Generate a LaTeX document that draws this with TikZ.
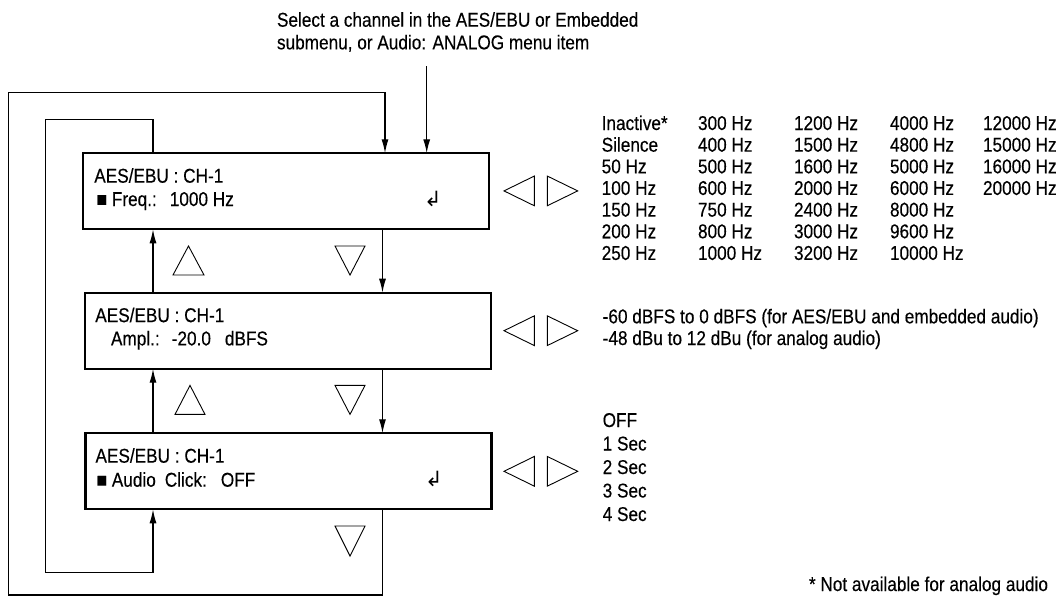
\documentclass[tikz,border=0pt]{standalone}
\usepackage{fontspec}
\setmainfont{Liberation Sans}[FakeStretch=0.86,FakeBold=0.3]
\newfontfamily\symf{DejaVu Sans}
\usetikzlibrary{arrows.meta}
\tikzset{
  lab/.style={inner sep=0pt, outer sep=0pt, anchor=base west, font=\fontsize{20}{24}\selectfont},
  labr/.style={lab, anchor=base east},
  menubox/.style={draw, line width=2.3pt, minimum width=406pt, minimum height=76pt, inner sep=0pt, outer sep=0pt},
  conn/.style={line width=1.3pt},
  arr/.style={conn, -{Latex[length=14pt,width=7pt]}},
  tri/.style={line width=0.9pt, line join=miter},
  entersym/.style={inner sep=0pt, outer sep=0pt, font=\symf\fontsize{21}{21}\selectfont},
}
\begin{document}
\begin{tikzpicture}[x=1pt,y=-1pt]
\useasboundingbox (0,0) rectangle (1064,598);

% header text
\node[lab] (h1) at (277,26.7) {Select a channel in the AES/EBU or Embedded};
\node[lab] (h2) at (277,49.3) {submenu, or Audio: ANALOG menu item};
\coordinate (entry) at (426.7,66);

% boxes
\node[menubox] (b1) at (286.3,191.3) {};
\node[menubox] (b2) at (288.2,330.7) {};
\node[menubox] (b3) at (288.5,471.3) {};

% box texts
\node[lab] (t1a) at (94.3,182.7) {AES/EBU : CH-1};
\node[lab] (t1b) at (96.7,206) {■ Freq.:\hspace{13pt}1000 Hz};
\node[lab] (t2a) at (95.3,322.1) {AES/EBU : CH-1};
\node[lab] (t2b) at (111,345.4) {Ampl.:\hspace{12pt}-20.0\hspace{14pt}dBFS};
\node[lab] (t3a) at (95.5,462.7) {AES/EBU : CH-1};
\node[lab] (t3b) at (96.7,486.7) {■ Audio\hspace{9pt}Click:\hspace{14pt}OFF};
\node[entersym] (e1) at (433,199) {↲};
\node[entersym] (e3) at (434,479.3) {↲};

% connector helper coordinates
\coordinate (up) at (153,0);
\coordinate (dn) at (382.5,0);
\coordinate (ol) at (385,0);
\coordinate (otop) at (8.3,92.3);
\coordinate (obot) at (8.3,595);
\coordinate (itop) at (45.7,119.5);
\coordinate (ibot) at (45.7,572.7);

% entry arrow
\draw[arr] (entry) -- (b1.north -| entry);

% vertical connectors between boxes
\draw[arr] (b1.south -| dn) -- (b2.north -| dn);
\draw[arr] (b2.south -| dn) -- (b3.north -| dn);
\draw[arr] (b2.north -| up) -- (b1.south -| up);
\draw[arr] (b3.north -| up) -- (b2.south -| up);

% outer loop: bottom of box 3 back to top of box 1
\draw[arr] (b3.south -| dn) -- (dn |- obot) -- (obot) -- (otop) -- (ol |- otop) -- (b1.north -| ol);
% inner loop: top of box 1 to bottom of box 3
\draw[arr] (b1.north -| up) -- (up |- itop) -- (itop) -- (ibot) -- (up |- ibot) -- (b3.south -| up);

% up / down triangles
\draw[tri] (173,275) -- (204,275) -- (188.5,246) -- cycle;
\draw[tri] (335,246) -- (365,246) -- (350,275) -- cycle;
\draw[tri] (175,414.4) -- (205,414.4) -- (190,385.4) -- cycle;
\draw[tri] (335,385.4) -- (365,385.4) -- (350,414.4) -- cycle;
\draw[tri] (335,526) -- (365,526) -- (350,556) -- cycle;

% left / right triangles
\foreach \yc in {190.9,330.7,471.3}{
  \draw[tri] (504,\yc) -- (534.3,\yc-14.85) -- (534.3,\yc+14.85) -- cycle;
  \draw[tri] (547.3,\yc-14.85) -- (577.7,\yc) -- (547.3,\yc+14.85) -- cycle;
}

% frequency table
\foreach \t [count=\ri] in {Inactive*,Silence,50 Hz,100 Hz,150 Hz,200 Hz,250 Hz}
  \node[lab] (fa\ri) at (601.7,{130+21.65*(\ri-1)}) {\t};
\foreach \t [count=\ri] in {300 Hz,400 Hz,500 Hz,600 Hz,750 Hz,800 Hz,1000 Hz}
  \node[lab] (fb\ri) at (698,{130+21.65*(\ri-1)}) {\t};
\foreach \t [count=\ri] in {1200 Hz,1500 Hz,1600 Hz,2000 Hz,2400 Hz,3000 Hz,3200 Hz}
  \node[lab] (fc\ri) at (794,{130+21.65*(\ri-1)}) {\t};
\foreach \t [count=\ri] in {4000 Hz,4800 Hz,5000 Hz,6000 Hz,8000 Hz,9600 Hz,10000 Hz}
  \node[lab] (fd\ri) at (890,{130+21.65*(\ri-1)}) {\t};
\foreach \t [count=\ri] in {12000 Hz,15000 Hz,16000 Hz,20000 Hz}
  \node[lab] (fe\ri) at (983,{130+21.65*(\ri-1)}) {\t};

% amplitude ranges
\node[lab] (a1) at (602.7,323.3) {-60 dBFS to 0 dBFS (for AES/EBU and embedded audio)};
\node[lab] (a2) at (602.7,345) {-48 dBu to 12 dBu (for analog audio)};

% click options
\foreach \t [count=\ri] in {OFF,1 Sec,2 Sec,3 Sec,4 Sec}
  \node[lab] (c\ri) at (602.7,{427+23.5*(\ri-1)}) {\t};

% footnote
\node[labr] (fn) at (1048,591) {* Not available for analog audio};
\end{tikzpicture}
\end{document}
